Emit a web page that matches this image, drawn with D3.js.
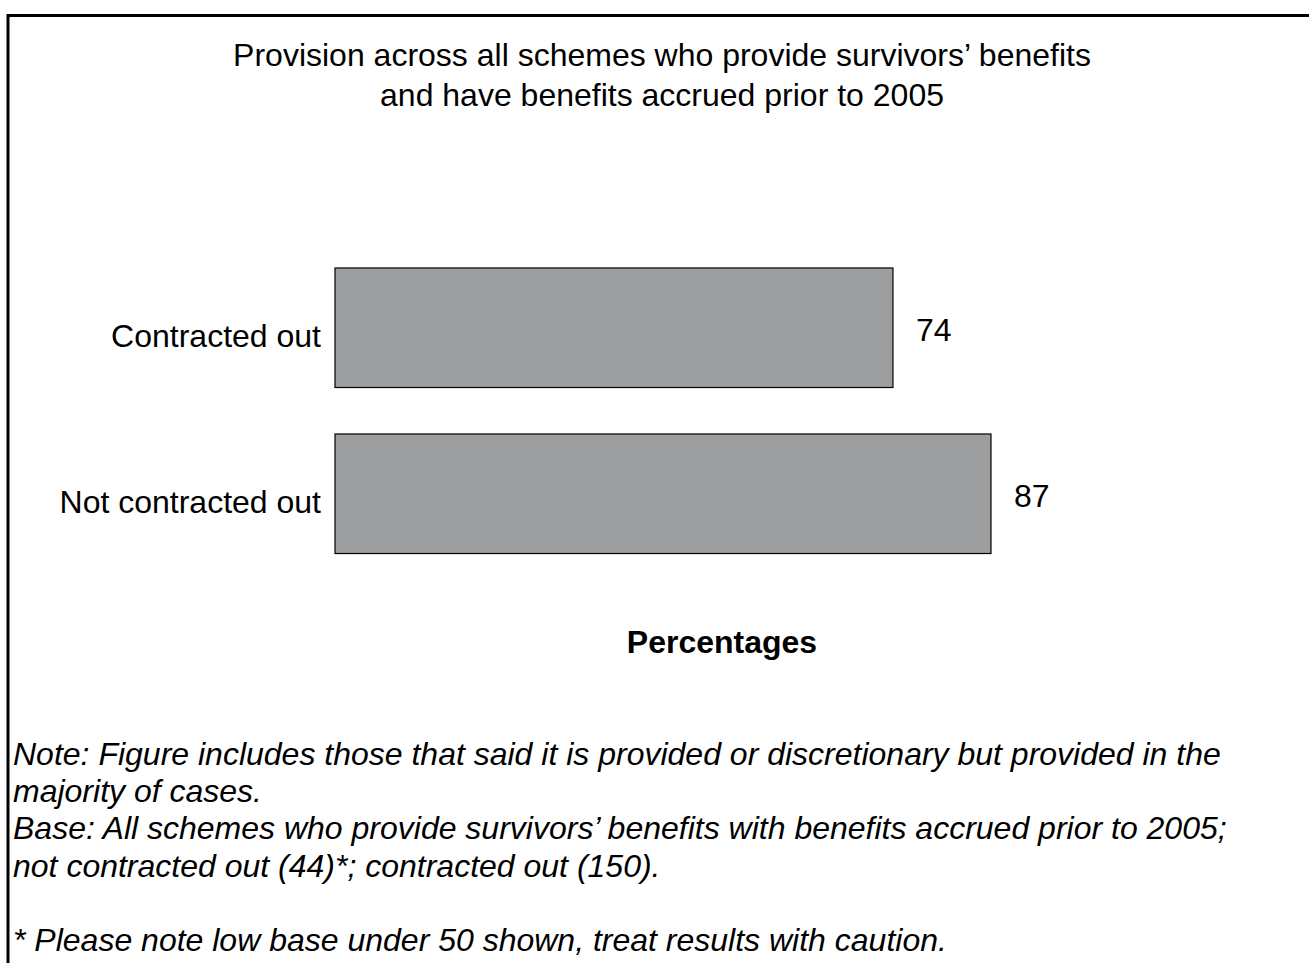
<!DOCTYPE html>
<html>
<head>
<meta charset="utf-8">
<script src="https://cdn.jsdelivr.net/npm/d3@7"></script>
<style>
  html, body { margin: 0; padding: 0; background: #fff; }
  svg text { font-family: "Liberation Sans", Arial, sans-serif; fill: #000; }
</style>
</head>
<body>
<div id="chart"></div>
<script>
// chart data
const categories = ['Contracted out', 'Not contracted out'];
const values = [74, 87];
const titleLines = [
  'Provision across all schemes who provide survivors\u2019 benefits',
  'and have benefits accrued prior to 2005'
];
const axisTitle = 'Percentages';
const noteLines = [
  'Note: Figure includes those that said it is provided or discretionary but provided in the',
  'majority of cases.',
  'Base: All schemes who provide survivors\u2019 benefits with benefits accrued prior to 2005;',
  'not contracted out (44)*; contracted out (150).',
  '',
  '* Please note low base under 50 shown, treat results with caution.'
];

const width = 1309;
const height = 963;

const svg = d3.select('#chart')
  .append('svg')
  .attr('width', width)
  .attr('height', height);

// frame: top and left edges only
svg.append('path')
  .attr('d', `M8,${height} L8,15.5 L${width},15.5`)
  .attr('fill', 'none')
  .attr('stroke', '#000')
  .attr('stroke-width', 3);

// title
svg.append('g')
  .selectAll('text')
  .data(titleLines)
  .enter()
  .append('text')
  .attr('x', 662)
  .attr('y', (d, i) => 66 + i * 40)
  .attr('text-anchor', 'middle')
  .style('font-size', '32px')
  .text((d) => d);

const x = d3.scaleLinear().domain([0, 100]).range([335, 1089]);
const y = d3.scaleBand()
  .domain(categories)
  .range([221.5, 600])
  .padding(0.28);

const g = svg.append('g');

g.selectAll('.bar')
  .data(categories)
  .enter()
  .append('rect')
  .attr('class', 'bar')
  .attr('x', x(0))
  .attr('y', (d) => y(d))
  .attr('width', (d, i) => x(values[i]) - x(0))
  .attr('height', y.bandwidth())
  .attr('fill', '#9d9ea0')
  .attr('stroke', '#000')
  .attr('stroke-width', 1.2);

// value labels
g.selectAll('.val')
  .data(categories)
  .enter()
  .append('text')
  .attr('class', 'val')
  .attr('x', (d, i) => x(values[i]) + 23)
  .attr('y', (d) => y(d) + y.bandwidth() / 2 + 13)
  .style('font-size', '32px')
  .text((d, i) => values[i]);

// category labels
g.selectAll('.cat')
  .data(categories)
  .enter()
  .append('text')
  .attr('class', 'cat')
  .attr('x', x(0) - 14)
  .attr('y', (d) => y(d) + y.bandwidth() / 2 + 19)
  .attr('text-anchor', 'end')
  .style('font-size', '32px')
  .text((d) => d);

svg.append('text')
  .attr('x', 722)
  .attr('y', 653)
  .attr('text-anchor', 'middle')
  .style('font-size', '32px')
  .style('font-weight', 'bold')
  .text(axisTitle);

// footnotes
svg.append('g')
  .selectAll('text')
  .data(noteLines)
  .enter()
  .append('text')
  .attr('x', 13)
  .attr('y', (d, i) => 765 + i * 37.2)
  .style('font-size', '32px')
  .style('font-style', 'italic')
  .text((d) => d);
</script>
</body>
</html>
